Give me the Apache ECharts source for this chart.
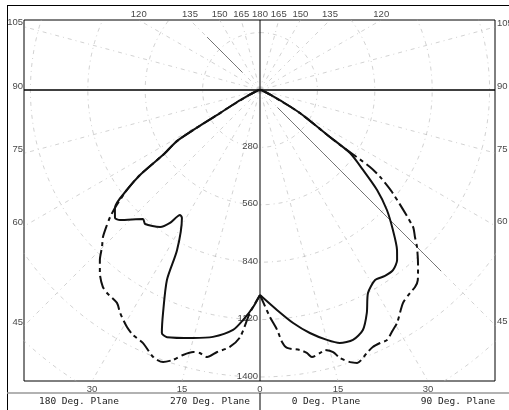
<!DOCTYPE html>
<html><head><meta charset="utf-8">
<script src="https://cdn.jsdelivr.net/npm/echarts@6/dist/echarts.min.js"></script>
<style>html,body{margin:0;padding:0;background:#fff}#c{width:509px;height:410px}</style>
</head><body><div id="c"></div>
<script>
// ---------- DATA (angle from nadir in degrees, candela) ----------
const planeNames = ['180 Deg. Plane', '270 Deg. Plane', '0 Deg. Plane', '90 Deg. Plane'];

const ang180 = [90, 80, 70, 65, 62, 60, 58.5, 56.2, 54.7, 53.1, 50.9, 49.7, 48.3, 46.9, 45.2, 43.3, 41.2, 38.6, 37.0, 33.9, 32.1, 29.3, 27.4, 24.8, 21.8, 19.6, 17.9, 16.2, 14.3, 12.9, 11.2, 9.3, 6.7, 4.6, 2.6, 0];
const cd180  = [0, 10, 25, 60, 130, 225, 468, 570, 717, 812, 912, 959, 1005, 1049, 1086, 1139, 1186, 1229, 1240, 1251, 1284, 1326, 1346, 1360, 1403, 1409, 1384, 1346, 1319, 1316, 1328, 1295, 1262, 1209, 1088, 1000];

const ang270 = [90, 80, 70, 65, 62, 60, 58.5, 56.2, 54.7, 53.1, 50.9, 48.6, 47.1, 42.2, 40.6, 36.1, 34.1, 32.6, 31.4, 27.4, 26.1, 23.5, 22.0, 20.6, 15.1, 10.8, 6.4, 4.2, 1.8, 0];
const cd270  = [0, 10, 25, 60, 130, 225, 468, 570, 717, 812, 912, 943, 932, 850, 861, 827, 783, 724, 731, 879, 1032, 1186, 1278, 1288, 1253, 1226, 1178, 1125, 1059, 1000];

const ang0 = [90, 80, 70, 65, 62, 60, 56.1, 55.0, 52.2, 49.5, 46.6, 43.5, 40.6, 38.9, 36.5, 33.9, 31.2, 28.0, 25.6, 23.2, 20.4, 17.5, 15.0, 11.6, 8.1, 4.4, 0];
const cd0  = [0, 10, 25, 60, 130, 225, 411, 536, 636, 751, 852, 942, 1027, 1065, 1092, 1093, 1084, 1122, 1206, 1274, 1301, 1294, 1262, 1210, 1148, 1076, 1000];

const ang90 = [90, 80, 70, 65, 62, 60, 56.1, 55.5, 55.0, 54.1, 52.3, 48.2, 46.5, 45.0, 42.1, 39.7, 38.2, 36.5, 33.9, 30.5, 29.0, 26.9, 25.4, 23.7, 22.1, 19.6, 18.3, 16.6, 15.6, 14.0, 12.9, 11.0, 10.1, 8.7, 6.0, 5.0, 4.1, 2.5, 0];
const cd90  = [0, 10, 25, 60, 130, 225, 411, 480, 655, 723, 814, 1001, 1042, 1083, 1150, 1205, 1223, 1231, 1251, 1318, 1338, 1368, 1366, 1369, 1385, 1413, 1398, 1364, 1327, 1307, 1316, 1327, 1303, 1283, 1265, 1234, 1174, 1108, 1000];

// ---------- AXES / TICKS ----------
const ringValues = [280, 560, 840, 1120, 1400, 1680];
const ringLabels = ['280', '560', '840', '1120', '1400'];
const sideTickAngles = [45, 60, 75, 90, 105];
const topTickAngles = [120, 135, 150, 165, 180];
const bottomTickAngles = [0, 15, 30];
const gridAngles = [15, 30, 45, 60, 75, 105, 120, 135, 150, 165];

// ---------- GEOMETRY ----------
const S = 0.205;               // px per candela
const G = {left: 24, top: 20, width: 471, height: 361};
const CX = 260, CY = 90;       // pixel position of the polar origin
const xMin = -(CX - G.left) / S, xMax = (G.left + G.width - CX) / S;
const yMax = (CY - G.top) / S, yMin = -(G.top + G.height - CY) / S;
const rad = d => d * Math.PI / 180;
const toXY = (side, a, c) => [side * c * Math.sin(rad(a)), -c * Math.cos(rad(a))];

const series = [];
const gridStyle = {color: '#b4b4b4', width: 0.6, type: [4, 4, 1, 4]};
ringValues.forEach(R => {
  const d = [];
  for (let p = 0; p <= 360; p += 2) d.push([R * Math.sin(rad(p)), R * Math.cos(rad(p))]);
  series.push({type: 'line', data: d, symbol: 'none', silent: true, lineStyle: gridStyle, z: 1});
});
[-1, 1].forEach(side => gridAngles.forEach(a => {
  series.push({type: 'line', data: [[0, 0], toXY(side, a, 2200)], symbol: 'none', silent: true, lineStyle: gridStyle, z: 1});
}));
series.push({type: 'line', data: [toXY(1, 45, 120), toXY(1, 45, 1250)], symbol: 'none', silent: true, lineStyle: {color: '#444', width: 0.7}, z: 2});
series.push({type: 'line', data: [toXY(-1, 135, 120), toXY(-1, 135, 365)], symbol: 'none', silent: true, lineStyle: {color: '#444', width: 0.7}, z: 2});
series.push({type: 'line', data: [[0, yMin], [0, yMax]], symbol: 'none', silent: true, lineStyle: {color: '#000', width: 1}, z: 3});
series.push({type: 'line', data: [[xMin, 0], [xMax, 0]], symbol: 'none', silent: true, lineStyle: {color: '#000', width: 1.5}, z: 3});

const planes = [
  {name: planeNames[0], side: -1, a: ang180, c: cd180, dash: [14, 4, 4, 4]},
  {name: planeNames[1], side: -1, a: ang270, c: cd270, dash: 'solid'},
  {name: planeNames[2], side: 1, a: ang0, c: cd0, dash: 'solid'},
  {name: planeNames[3], side: 1, a: ang90, c: cd90, dash: [14, 4, 4, 4]}
];
planes.forEach(p => {
  series.push({
    type: 'line', name: p.name, symbol: 'none', smooth: 0.25, z: 5,
    data: p.a.map((a, i) => toXY(p.side, a, p.c[i])),
    lineStyle: {color: '#111', width: 2, type: p.dash}
  });
});

const lblFont = {fontSize: 9.5, fontFamily: 'Liberation Sans', color: '#111'};
function labels(points, position, distance) {
  series.push({
    type: 'scatter', symbolSize: 0.01, clip: false, silent: true, z: 10,
    data: points,
    label: Object.assign({show: true, position: position, distance: distance, formatter: q => q.data[2]}, lblFont)
  });
}
const up = px => px / S;
labels(sideTickAngles.map(a => [xMin, -Math.abs(xMin) * Math.cos(rad(a)) / Math.sin(rad(a)) + up(4), String(a)]), 'left', 1);
labels(sideTickAngles.map(a => [xMax, -Math.abs(xMax) * Math.cos(rad(a)) / Math.sin(rad(a)) + up(4), String(a)]), 'right', 2);
const bt = [];
bottomTickAngles.forEach(a => {
  bt.push([Math.abs(yMin) * Math.tan(rad(a)), yMin, String(a)]);
  if (a !== 0) bt.push([-Math.abs(yMin) * Math.tan(rad(a)), yMin, String(a)]);
});
labels(bt, 'bottom', 3);
const tt = [];
topTickAngles.forEach(a => {
  const off = a === 180 ? 0 : yMax / Math.tan(rad(a - 90));
  tt.push([off, yMax, String(a)]);
  if (a !== 180) tt.push([-off, yMax, String(a)]);
});
labels(tt, 'top', 1);
labels(ringLabels.map((t, i) => [0, -ringValues[i] + up(1), t]), 'left', 2);

const legFont = '9.5px "DejaVu Sans Mono"';
const chart = echarts.init(document.getElementById('c'));
chart.setOption({
  animation: false,
  backgroundColor: '#fff',
  grid: Object.assign({show: true, borderColor: '#000', borderWidth: 1, backgroundColor: 'transparent'}, G),
  xAxis: {type: 'value', min: xMin, max: xMax, show: false},
  yAxis: {type: 'value', min: yMin, max: yMax, show: false},
  series: series,
  graphic: [
    {type: 'line', shape: {x1: 7, y1: 5.5, x2: 509, y2: 5.5}, style: {stroke: '#000', lineWidth: 1}},
    {type: 'line', shape: {x1: 7.5, y1: 5, x2: 7.5, y2: 410}, style: {stroke: '#000', lineWidth: 1}},
    {type: 'line', shape: {x1: 7, y1: 393, x2: 509, y2: 393}, style: {stroke: '#999', lineWidth: 1.5}},
    {type: 'line', shape: {x1: 260, y1: 393, x2: 260, y2: 410}, style: {stroke: '#000', lineWidth: 1}},
    {type: 'text', x: 79, y: 402, style: {text: planeNames[0], fill: '#222', font: legFont, align: 'center', verticalAlign: 'middle'}},
    {type: 'text', x: 210, y: 402, style: {text: planeNames[1], fill: '#222', font: legFont, align: 'center', verticalAlign: 'middle'}},
    {type: 'text', x: 326, y: 402, style: {text: planeNames[2], fill: '#222', font: legFont, align: 'center', verticalAlign: 'middle'}},
    {type: 'text', x: 458, y: 402, style: {text: planeNames[3], fill: '#222', font: legFont, align: 'center', verticalAlign: 'middle'}}
  ]
});
</script>
</body></html>
